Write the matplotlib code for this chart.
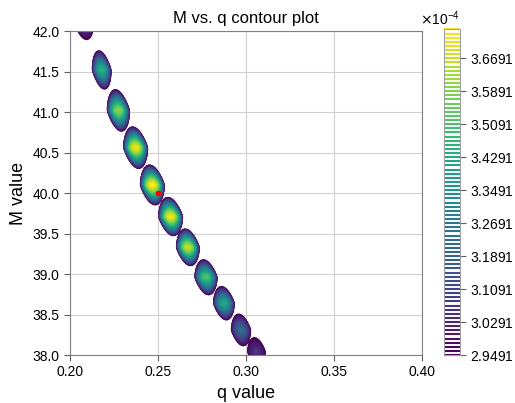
import numpy as np
import matplotlib
matplotlib.use("Agg")
import matplotlib.pyplot as plt
from matplotlib.ticker import ScalarFormatter

plt.rcParams['font.family'] = ['Liberation Sans', 'DejaVu Sans']

# peak positions of the likelihood along the degeneracy line
peak_q = [0.2080, 0.2180, 0.2275, 0.2373, 0.2468, 0.2572, 0.2670, 0.2773, 0.2875, 0.2972, 0.3060]
peak_M = [42.10, 41.52, 41.02, 40.56, 40.10, 39.71, 39.33, 38.96, 38.64, 38.31, 38.04]
peak_val = [3.10, 3.45, 3.60, 3.72, 3.75, 3.73, 3.67, 3.52, 3.42, 3.22, 3.06]  # x1e-4
half_w = [0.0052, 0.0050, 0.0060, 0.0065, 0.0065, 0.0065, 0.0062, 0.0060, 0.0056, 0.0052, 0.0048]
half_h = [0.20, 0.23, 0.25, 0.25, 0.24, 0.23, 0.22, 0.21, 0.20, 0.19, 0.17]

true_q = [0.25]
true_M = [40.0]

base = 2.90
levels = (2.9491 + 0.01 * np.arange(80)) * 1e-4
cbar_ticks = levels[::8]

# build the surface on a grid, each peak is a lens shaped bump
q = np.linspace(0.2, 0.4, 600)
M = np.linspace(38.0, 42.0, 600)
Q, MM = np.meshgrid(q, M)
Z = np.full(Q.shape, base)
lev0 = levels[0] * 1e4
for q0, m0, a, hw, hh in zip(peak_q, peak_M, peak_val, half_w, half_h):
    dM = MM - m0
    dq = (Q - q0) + 0.007 * dM
    rho2 = (dq / hw) ** 2 + (np.abs(dM) / hh) ** 1.3
    blob = lev0 + (a - lev0) * (1 - rho2)
    Z = np.maximum(Z, blob)
Z = Z * 1e-4

fig = plt.figure(figsize=(5.15, 4.03), dpi=100)
ax = fig.add_axes([0.136, 0.119, 0.683, 0.804])
cax = fig.add_axes([0.862, 0.119, 0.031, 0.808])

cs = ax.contour(Q, MM, Z, levels=levels, cmap='viridis', linewidths=1.5)
ax.plot(true_q, true_M, 'o', color='red', ms=3, zorder=5)

ax.set_xlim(0.2, 0.4)
ax.set_ylim(38.0, 42.0)
ax.set_xticks([0.20, 0.25, 0.30, 0.35, 0.40])
ax.set_yticks(np.arange(38.0, 42.01, 0.5))
ax.xaxis.set_major_formatter(plt.FormatStrFormatter('%.2f'))
ax.yaxis.set_major_formatter(plt.FormatStrFormatter('%.1f'))
ax.grid(True, color='#d0d0d0', linewidth=0.8)
ax.set_axisbelow(True)
for s in ax.spines.values():
    s.set_color('#808080')
ax.tick_params(labelsize=10, color='#606060', length=4)

ax.set_title("M vs. q contour plot", fontsize=12)
ax.set_xlabel("q value", fontsize=13)
ax.set_ylabel("M value", fontsize=13)

cb = fig.colorbar(cs, cax=cax)
cb.set_ticks(cbar_ticks)
fmt = ScalarFormatter(useMathText=True)
fmt.set_powerlimits((-3, 3))
cb.formatter = fmt
cb.update_ticks()
cb.outline.set_edgecolor('#a0a0a0')
cax.tick_params(labelsize=10, color='#606060', length=4)
cax.yaxis.get_offset_text().set_fontsize(10)

fig.savefig("out.png", dpi=100)
